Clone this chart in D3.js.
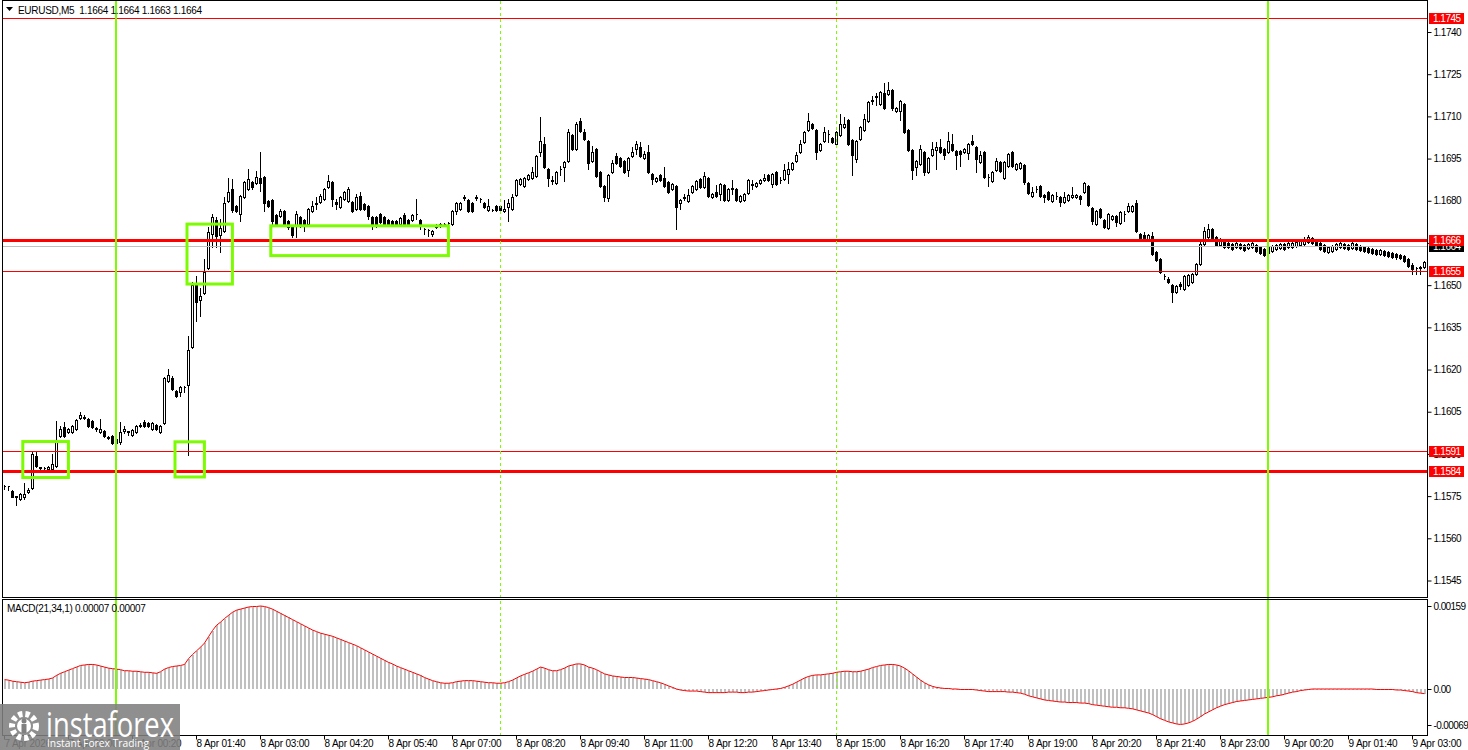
<!DOCTYPE html>
<html>
<head>
<meta charset="utf-8">
<script src="https://cdn.jsdelivr.net/npm/d3@7"></script>
<style>
  body { margin: 0; background: #fff; }
  svg { display: block; font-family: "Liberation Sans", Arial, sans-serif; }
</style>
</head>
<body>
<svg id="chart" width="1468" height="750"></svg>
<script>
// EURUSD M5, 7 Apr 21:40 .. 9 Apr 03:15, one entry per bar
const opens = [
  1.15787,1.15785,1.15769,1.15748,1.15741,1.15748,1.15766,1.15780,1.15894,1.15855,
  1.15851,1.15848,1.15848,1.15858,1.15965,1.15997,1.15979,1.15979,1.15990,1.16029,
  1.16032,1.16025,1.16018,1.15993,1.15979,1.15982,1.15961,1.15965,1.15940,1.15943,
  1.15982,1.15979,1.15968,1.15979,1.16000,1.16014,1.16011,1.15990,1.16004,1.15979,
  1.16011,1.16160,1.16171,1.16124,1.16121,1.16139,1.16146,1.16281,1.16501,1.16447,
  1.16472,1.16561,1.16682,1.16731,1.16678,1.16692,1.16799,1.16842,1.16781,1.16753,
  1.16813,1.16842,1.16866,1.16863,1.16881,1.16884,1.16799,1.16802,1.16749,1.16746,
  1.16763,1.16728,1.16707,1.16710,1.16742,1.16731,1.16717,1.16763,1.16788,1.16795,
  1.16806,1.16849,1.16866,1.16795,1.16778,1.16806,1.16799,1.16795,1.16771,1.16817,
  1.16788,1.16781,1.16742,1.16742,1.16753,1.16742,1.16731,1.16728,1.16728,1.16717,
  1.16749,1.16731,1.16731,1.16753,1.16731,1.16700,1.16696,1.16682,1.16707,1.16710,
  1.16717,1.16721,1.16717,1.16763,1.16771,1.16810,1.16802,1.16792,1.16810,1.16806,
  1.16792,1.16767,1.16767,1.16781,1.16781,1.16763,1.16778,1.16771,1.16820,1.16859,
  1.16852,1.16877,1.16881,1.16888,1.16973,1.17001,1.16913,1.16873,1.16863,1.16913,
  1.16920,1.16941,1.17033,1.16984,1.17083,1.17044,1.17012,1.16941,1.16984,1.16902,
  1.16852,1.16810,1.16902,1.16959,1.16952,1.16941,1.16909,1.16959,1.16984,1.16991,
  1.16952,1.16973,1.16895,1.16870,1.16891,1.16881,1.16866,1.16842,1.16852,1.16792,
  1.16810,1.16799,1.16831,1.16842,1.16877,1.16849,1.16881,1.16813,1.16831,1.16824,
  1.16856,1.16802,1.16842,1.16842,1.16799,1.16802,1.16827,1.16856,1.16852,1.16863,
  1.16873,1.16891,1.16859,1.16902,1.16873,1.16877,1.16895,1.16913,1.16941,1.16973,
  1.17008,1.17051,1.17072,1.17051,1.16980,1.17012,1.17037,1.17023,1.17001,1.17033,
  1.17062,1.17086,1.17015,1.16948,1.17019,1.17051,1.17083,1.17154,1.17168,1.17143,
  1.17182,1.17179,1.17193,1.17118,1.17118,1.17143,1.17051,1.16980,1.16920,1.16930,
  1.16973,1.16902,1.16962,1.16980,1.16991,1.16984,1.16973,1.17001,1.16976,1.16976,
  1.16973,1.16969,1.17012,1.16991,1.16937,1.16973,1.16884,1.16870,1.16909,1.16937,
  1.16881,1.16923,1.16973,1.16913,1.16916,1.16927,1.16863,1.16817,1.16842,1.16852,
  1.16820,1.16831,1.16799,1.16817,1.16813,1.16795,1.16802,1.16813,1.16813,1.16817,
  1.16831,1.16852,1.16774,1.16717,1.16771,1.16731,1.16703,1.16735,1.16746,1.16721,
  1.16753,1.16763,1.16763,1.16792,1.16682,1.16678,1.16664,1.16675,1.16618,1.16593,
  1.16533,1.16522,1.16501,1.16476,1.16504,1.16486,1.16501,1.16511,1.16540,1.16575,
  1.16646,1.16671,1.16700,1.16671,1.16643,1.16653,1.16650,1.16646,1.16636,1.16646,
  1.16643,1.16632,1.16636,1.16643,1.16636,1.16629,1.16614,1.16621,1.16629,1.16632,
  1.16646,1.16636,1.16636,1.16639,1.16643,1.16646,1.16653,1.16668,1.16660,1.16650,
  1.16643,1.16618,1.16621,1.16629,1.16636,1.16646,1.16643,1.16632,1.16646,1.16639,
  1.16636,1.16632,1.16629,1.16625,1.16611,1.16621,1.16618,1.16614,1.16611,1.16607,
  1.16604,1.16593,1.16572,1.16561,1.16561,1.16565
];
const highs = [
  1.15791,1.15787,1.15773,1.15752,1.15762,1.15798,1.15780,1.15908,1.15908,1.15855,
  1.15855,1.15858,1.15901,1.16018,1.16000,1.16014,1.15993,1.16004,1.16025,1.16050,
  1.16039,1.16029,1.16021,1.15997,1.16025,1.15986,1.15965,1.15968,1.15961,1.16014,
  1.16000,1.15982,1.15990,1.16004,1.16011,1.16021,1.16014,1.16014,1.16007,1.16004,
  1.16174,1.16203,1.16178,1.16128,1.16142,1.16142,1.16320,1.16511,1.16533,1.16490,
  1.16593,1.16707,1.16753,1.16742,1.16735,1.16813,1.16881,1.16877,1.16785,1.16820,
  1.16870,1.16913,1.16870,1.16905,1.16973,1.16888,1.16802,1.16806,1.16753,1.16771,
  1.16767,1.16731,1.16710,1.16763,1.16746,1.16735,1.16774,1.16799,1.16813,1.16824,
  1.16845,1.16891,1.16870,1.16806,1.16817,1.16834,1.16849,1.16799,1.16824,1.16831,
  1.16792,1.16785,1.16746,1.16746,1.16756,1.16746,1.16735,1.16731,1.16731,1.16742,
  1.16756,1.16735,1.16753,1.16806,1.16735,1.16703,1.16700,1.16696,1.16717,1.16721,
  1.16721,1.16724,1.16767,1.16795,1.16795,1.16820,1.16806,1.16795,1.16820,1.16810,
  1.16795,1.16806,1.16771,1.16785,1.16785,1.16802,1.16806,1.16824,1.16877,1.16881,
  1.16884,1.16895,1.16920,1.16962,1.17097,1.17026,1.16916,1.16888,1.16905,1.16923,
  1.16941,1.17055,1.17037,1.17079,1.17094,1.17055,1.17015,1.16994,1.16987,1.16905,
  1.16856,1.16895,1.16944,1.16969,1.16955,1.16944,1.16955,1.16991,1.17012,1.17008,
  1.16976,1.16998,1.16898,1.16884,1.16895,1.16920,1.16870,1.16863,1.16856,1.16806,
  1.16824,1.16842,1.16856,1.16873,1.16881,1.16902,1.16884,1.16827,1.16856,1.16863,
  1.16859,1.16845,1.16873,1.16845,1.16820,1.16827,1.16877,1.16873,1.16866,1.16877,
  1.16895,1.16895,1.16898,1.16905,1.16884,1.16930,1.16937,1.16937,1.16973,1.17015,
  1.17047,1.17111,1.17076,1.17055,1.17005,1.17062,1.17051,1.17026,1.17047,1.17108,
  1.17097,1.17090,1.17019,1.17015,1.17065,1.17108,1.17154,1.17172,1.17182,1.17189,
  1.17218,1.17221,1.17196,1.17133,1.17157,1.17147,1.17055,1.16984,1.16944,1.16998,
  1.16976,1.16955,1.17008,1.17008,1.17019,1.16987,1.17044,1.17037,1.16980,1.16980,
  1.16987,1.17005,1.17033,1.16994,1.16976,1.16976,1.16895,1.16905,1.16952,1.16941,
  1.16941,1.16969,1.16976,1.16934,1.16937,1.16930,1.16866,1.16849,1.16852,1.16856,
  1.16824,1.16834,1.16824,1.16831,1.16817,1.16831,1.16824,1.16849,1.16824,1.16820,
  1.16866,1.16856,1.16778,1.16767,1.16774,1.16735,1.16756,1.16749,1.16749,1.16763,
  1.16763,1.16792,1.16785,1.16802,1.16685,1.16689,1.16682,1.16689,1.16621,1.16597,
  1.16540,1.16529,1.16504,1.16501,1.16511,1.16536,1.16540,1.16543,1.16579,1.16653,
  1.16707,1.16717,1.16703,1.16675,1.16668,1.16657,1.16653,1.16650,1.16653,1.16650,
  1.16646,1.16650,1.16657,1.16646,1.16639,1.16632,1.16639,1.16643,1.16646,1.16650,
  1.16650,1.16653,1.16657,1.16657,1.16664,1.16671,1.16678,1.16671,1.16664,1.16653,
  1.16646,1.16639,1.16643,1.16650,1.16653,1.16650,1.16646,1.16653,1.16650,1.16643,
  1.16639,1.16636,1.16632,1.16629,1.16629,1.16625,1.16621,1.16618,1.16614,1.16611,
  1.16607,1.16597,1.16579,1.16565,1.16568,1.16586
];
const lows = [
  1.15777,1.15773,1.15748,1.15720,1.15737,1.15741,1.15762,1.15777,1.15855,1.15844,
  1.15844,1.15844,1.15844,1.15855,1.15961,1.15961,1.15975,1.15975,1.15986,1.16025,
  1.16025,1.15997,1.15993,1.15982,1.15975,1.15961,1.15954,1.15936,1.15936,1.15936,
  1.15975,1.15968,1.15965,1.15975,1.15997,1.15997,1.15997,1.15986,1.15986,1.15975,
  1.16007,1.16156,1.16128,1.16103,1.16107,1.16121,1.15897,1.16277,1.16373,1.16391,
  1.16469,1.16558,1.16636,1.16636,1.16618,1.16689,1.16795,1.16760,1.16760,1.16728,
  1.16810,1.16838,1.16842,1.16859,1.16834,1.16763,1.16778,1.16717,1.16714,1.16742,
  1.16714,1.16700,1.16671,1.16671,1.16707,1.16692,1.16714,1.16760,1.16771,1.16792,
  1.16802,1.16845,1.16781,1.16771,1.16774,1.16802,1.16795,1.16760,1.16767,1.16767,
  1.16767,1.16735,1.16700,1.16707,1.16721,1.16714,1.16714,1.16714,1.16710,1.16714,
  1.16714,1.16714,1.16728,1.16735,1.16700,1.16682,1.16675,1.16675,1.16703,1.16707,
  1.16714,1.16710,1.16714,1.16753,1.16767,1.16802,1.16760,1.16760,1.16802,1.16795,
  1.16774,1.16763,1.16763,1.16763,1.16763,1.16760,1.16728,1.16767,1.16817,1.16856,
  1.16849,1.16873,1.16877,1.16884,1.16959,1.16916,1.16852,1.16859,1.16859,1.16891,
  1.16870,1.16937,1.16980,1.16980,1.17044,1.17016,1.16913,1.16937,1.16884,1.16849,
  1.16799,1.16799,1.16898,1.16930,1.16920,1.16898,1.16888,1.16955,1.16966,1.16955,
  1.16948,1.16898,1.16859,1.16866,1.16870,1.16849,1.16827,1.16838,1.16700,1.16771,
  1.16802,1.16795,1.16827,1.16838,1.16845,1.16845,1.16813,1.16810,1.16813,1.16802,
  1.16799,1.16799,1.16824,1.16799,1.16795,1.16799,1.16824,1.16842,1.16849,1.16859,
  1.16870,1.16870,1.16849,1.16856,1.16863,1.16873,1.16863,1.16909,1.16937,1.16969,
  1.17005,1.17047,1.17055,1.16948,1.16976,1.17008,1.17008,1.17005,1.16998,1.17030,
  1.17058,1.16998,1.16891,1.16937,1.17015,1.17047,1.17079,1.17143,1.17140,1.17140,
  1.17126,1.17175,1.17122,1.17115,1.17086,1.17040,1.16976,1.16877,1.16891,1.16927,
  1.16891,1.16898,1.16959,1.16913,1.16969,1.16948,1.16969,1.16976,1.16913,1.16923,
  1.16969,1.16948,1.16998,1.16902,1.16934,1.16881,1.16852,1.16866,1.16905,1.16902,
  1.16877,1.16920,1.16920,1.16909,1.16913,1.16859,1.16824,1.16813,1.16831,1.16813,
  1.16795,1.16802,1.16795,1.16806,1.16781,1.16792,1.16799,1.16810,1.16810,1.16788,
  1.16827,1.16781,1.16717,1.16714,1.16739,1.16703,1.16700,1.16731,1.16710,1.16717,
  1.16728,1.16760,1.16760,1.16689,1.16660,1.16660,1.16660,1.16607,1.16586,1.16543,
  1.16522,1.16508,1.16440,1.16472,1.16486,1.16483,1.16497,1.16508,1.16536,1.16572,
  1.16643,1.16668,1.16660,1.16639,1.16639,1.16632,1.16632,1.16625,1.16632,1.16629,
  1.16621,1.16629,1.16632,1.16618,1.16611,1.16604,1.16611,1.16618,1.16625,1.16629,
  1.16625,1.16632,1.16632,1.16636,1.16639,1.16643,1.16650,1.16646,1.16639,1.16625,
  1.16618,1.16614,1.16618,1.16625,1.16632,1.16629,1.16625,1.16629,1.16625,1.16621,
  1.16618,1.16614,1.16611,1.16607,1.16607,1.16604,1.16600,1.16597,1.16593,1.16593,
  1.16582,1.16565,1.16540,1.16540,1.16540,1.16561
];
const closes = [
  1.15786,1.15785,1.15748,1.15752,1.15759,1.15759,1.15773,1.15901,1.15858,1.15851,
  1.15849,1.15855,1.15865,1.15943,1.15990,1.15965,1.15990,1.16000,1.16021,1.16039,
  1.16029,1.16000,1.15997,1.15990,1.15990,1.15965,1.15958,1.15940,1.15954,1.15979,
  1.15990,1.15982,1.15986,1.16000,1.16004,1.16000,1.16000,1.16011,1.15990,1.16000,
  1.16171,1.16181,1.16132,1.16107,1.16139,1.16138,1.16270,1.16501,1.16440,1.16462,
  1.16547,1.16689,1.16742,1.16675,1.16703,1.16792,1.16831,1.16767,1.16763,1.16817,
  1.16866,1.16877,1.16849,1.16884,1.16863,1.16792,1.16781,1.16728,1.16717,1.16763,
  1.16717,1.16707,1.16678,1.16753,1.16710,1.16710,1.16771,1.16781,1.16792,1.16817,
  1.16842,1.16870,1.16806,1.16788,1.16813,1.16831,1.16842,1.16763,1.16813,1.16771,
  1.16771,1.16746,1.16710,1.16714,1.16724,1.16717,1.16717,1.16717,1.16714,1.16739,
  1.16717,1.16717,1.16749,1.16752,1.16710,1.16699,1.16695,1.16692,1.16714,1.16717,
  1.16718,1.16720,1.16763,1.16792,1.16792,1.16813,1.16763,1.16763,1.16813,1.16805,
  1.16778,1.16781,1.16766,1.16767,1.16767,1.16771,1.16792,1.16813,1.16873,1.16877,
  1.16881,1.16891,1.16902,1.16959,1.17012,1.16920,1.16881,1.16872,1.16902,1.16914,
  1.16937,1.17044,1.16984,1.17072,1.17047,1.17019,1.16934,1.16973,1.16888,1.16852,
  1.16813,1.16891,1.16934,1.16934,1.16923,1.16902,1.16952,1.16973,1.17001,1.16959,
  1.16966,1.16902,1.16877,1.16881,1.16873,1.16852,1.16831,1.16859,1.16778,1.16802,
  1.16813,1.16820,1.16852,1.16870,1.16849,1.16888,1.16817,1.16824,1.16817,1.16859,
  1.16802,1.16842,1.16845,1.16802,1.16817,1.16824,1.16873,1.16859,1.16863,1.16873,
  1.16881,1.16873,1.16895,1.16859,1.16874,1.16909,1.16913,1.16934,1.16962,1.17001,
  1.17044,1.17083,1.17058,1.16973,1.17001,1.17044,1.17036,1.17008,1.17044,1.17072,
  1.17072,1.17001,1.16962,1.17012,1.17062,1.17090,1.17150,1.17157,1.17172,1.17186,
  1.17129,1.17193,1.17129,1.17129,1.17154,1.17044,1.16980,1.16909,1.16941,1.16984,
  1.16902,1.16952,1.16984,1.16991,1.16973,1.16962,1.17012,1.16980,1.16962,1.16966,
  1.16984,1.17001,1.17001,1.16948,1.16962,1.16884,1.16883,1.16902,1.16941,1.16905,
  1.16937,1.16966,1.16923,1.16930,1.16934,1.16866,1.16827,1.16831,1.16841,1.16817,
  1.16813,1.16806,1.16820,1.16816,1.16795,1.16813,1.16820,1.16820,1.16820,1.16806,
  1.16863,1.16785,1.16728,1.16763,1.16742,1.16707,1.16753,1.16746,1.16724,1.16760,
  1.16752,1.16781,1.16781,1.16692,1.16664,1.16664,1.16678,1.16611,1.16589,1.16547,
  1.16532,1.16511,1.16476,1.16497,1.16497,1.16533,1.16536,1.16540,1.16575,1.16646,
  1.16692,1.16700,1.16664,1.16643,1.16664,1.16636,1.16636,1.16629,1.16650,1.16632,
  1.16625,1.16646,1.16650,1.16621,1.16614,1.16607,1.16636,1.16639,1.16643,1.16646,
  1.16629,1.16650,1.16650,1.16653,1.16657,1.16664,1.16671,1.16650,1.16643,1.16629,
  1.16621,1.16636,1.16639,1.16646,1.16650,1.16632,1.16629,1.16650,1.16629,1.16625,
  1.16621,1.16618,1.16614,1.16611,1.16625,1.16607,1.16604,1.16600,1.16600,1.16597,
  1.16586,1.16568,1.16558,1.16560,1.16565,1.16582
];
// MACD(21,34,1) main line per bar, in units of 0.00001
const macdE5 = [
  18,17,15,14,13,12,13,15,16,17,
  18,19,21,26,30,33,36,39,42,45,
  46,47,47,46,44,42,40,39,38,37,
  35,35,34,34,33,32,32,31,30,33,
  38,41,43,44,45,47,58,66,73,80,
  88,100,112,122,128,135,141,147,151,153,
  155,157,158,158,159,158,156,153,149,145,
  141,137,133,129,125,121,117,113,110,107,
  105,103,101,98,95,92,89,86,83,79,
  75,71,67,63,59,55,51,48,44,41,
  38,35,32,29,26,22,19,16,14,12,
  11,11,12,14,15,16,16,16,15,14,
  13,12,12,11,11,12,14,17,21,25,
  28,31,34,38,42,40,37,35,35,37,
  40,44,46,48,48,46,42,40,37,33,
  29,27,25,24,23,22,22,22,21,20,
  19,18,16,14,12,9,6,3,0,-2,
  -3,-4,-4,-4,-5,-6,-7,-7,-7,-7,
  -7,-6,-6,-6,-7,-7,-6,-6,-5,-4,
  -3,-2,-1,0,1,3,6,9,13,17,
  21,24,26,27,27,28,29,30,32,33,
  34,34,33,33,34,36,38,41,43,45,
  46,47,47,46,44,40,35,29,23,17,
  12,8,5,3,2,1,1,0,0,-1,
  -1,-1,-1,-2,-3,-4,-5,-5,-5,-5,
  -5,-6,-6,-7,-8,-10,-13,-15,-17,-19,
  -21,-22,-23,-24,-25,-25,-26,-26,-26,-27,
  -27,-28,-30,-31,-32,-33,-34,-35,-35,-36,
  -36,-37,-38,-40,-42,-44,-46,-49,-53,-57,
  -60,-63,-65,-67,-68,-67,-65,-62,-58,-53,
  -48,-44,-40,-36,-33,-30,-28,-26,-24,-23,
  -22,-21,-20,-19,-18,-17,-16,-15,-13,-12,
  -10,-8,-6,-5,-3,-2,-1,0,0,0,
  0,0,0,0,0,0,0,0,0,0,
  0,0,0,-1,-1,-1,-1,-1,-2,-2,
  -3,-4,-5,-7,-8,-9
];

const priceTicks = [1.1740,1.1725,1.1710,1.1695,1.1680,1.1665,1.1650,1.1635,1.1620,1.1605,1.1590,1.1575,1.1560,1.1545];
const levelPrices = [1.1745, 1.1666, 1.1655, 1.1591, 1.1584];
const thickLevels = [1.1666, 1.1584];
const bidPrice = 1.1664;
const macdTicks = [0.00159, 0, -0.00069];
const macdTickLabels = ["0.00159", "0.00", "-0.00069"];
const timeLabels = ["7 Apr 2026","7 Apr 23:00","8 Apr 00:20","8 Apr 01:40","8 Apr 03:00","8 Apr 04:20",
  "8 Apr 05:40","8 Apr 07:00","8 Apr 08:20","8 Apr 09:40","8 Apr 11:00","8 Apr 12:20","8 Apr 13:40",
  "8 Apr 15:00","8 Apr 16:20","8 Apr 17:40","8 Apr 19:00","8 Apr 20:20","8 Apr 21:40","8 Apr 23:00",
  "9 Apr 00:20","9 Apr 01:40","9 Apr 03:00"];
const timeTickBars = timeLabels.map((d, i) => i * 16);
const dayBars = [28, 316];      // midnight separators
const sessionBars = [124, 208]; // dashed markers
// highlighted zones: bar range and price range
const boxFrom = [4.7, 42.75, 45.75, 66.7];
const boxTo   = [16.1, 50.1, 57.1, 111.1];
const boxLow  = [1.15816, 1.15818, 1.16504, 1.16605];
const boxHigh = [1.15944, 1.15943, 1.16717, 1.16711];

const svg = d3.select("#chart");
const left = 2, right = 1427, mainBottom = 597, macdTop = 599, macdBottom = 735;
const green = "#7cfc00";
const font = "Liberation Sans, Arial, sans-serif";

const x = d3.scaleLinear().domain([0, 1]).range([4, 8]);
const y = d3.scaleLinear().domain([1.1545, 1.1740]).range([580.5, 32]);
const ym = d3.scaleLinear().domain([-0.00069, 0.00159]).range([725, 606]);

svg.append("rect").attr("width", 1468).attr("height", 750).attr("fill", "#fff");

const defs = svg.append("defs");
defs.append("clipPath").attr("id", "clipMain").append("rect")
  .attr("x", left + 1).attr("y", 1).attr("width", right - left - 1).attr("height", mainBottom - 1);
defs.append("clipPath").attr("id", "clipMacd").append("rect")
  .attr("x", left + 1).attr("y", macdTop + 1).attr("width", right - left - 1).attr("height", macdBottom - macdTop - 1);

// candles
const bars = closes.map((c, i) => ({ i, o: opens[i], h: highs[i], l: lows[i], c }));
const cg = svg.append("g").attr("clip-path", "url(#clipMain)").attr("shape-rendering", "crispEdges");
cg.selectAll("line").data(bars).join("line")
  .attr("x1", d => x(d.i) + 0.5).attr("x2", d => x(d.i) + 0.5)
  .attr("y1", d => Math.round(y(d.h))).attr("y2", d => Math.round(y(d.l)) + 1)
  .attr("stroke", "#000");
cg.selectAll("path").data(bars).join("path")
  .attr("d", d => {
    const t = Math.round(y(Math.max(d.o, d.c))) + 0.5;
    const b = Math.round(y(Math.min(d.o, d.c))) + 0.5;
    const x0 = x(d.i) - 0.5, x1 = x(d.i) + 1.5;
    return `M${x0},${t}H${x1}V${b}H${x0}Z`;
  })
  .attr("fill", d => d.c >= d.o ? "#fff" : "#000")
  .attr("stroke", "#000");

// MACD histogram + signal
const mg = svg.append("g").attr("clip-path", "url(#clipMacd)").attr("shape-rendering", "crispEdges");
const macd = macdE5.map(v => v / 100000);
mg.selectAll("rect").data(macd).join("rect")
  .attr("x", (d, i) => x(i))
  .attr("width", 2)
  .attr("y", d => Math.round(Math.min(ym(d), ym(0))))
  .attr("height", d => Math.max(1, Math.round(Math.abs(ym(d) - ym(0)))))
  .attr("fill", "#c0c0c0");
svg.append("path")
  .attr("clip-path", "url(#clipMacd)")
  .datum(macd)
  .attr("d", d3.line().x((d, i) => x(i) + 0.5).y(d => ym(d)))
  .attr("fill", "none").attr("stroke", "#ff0000").attr("stroke-width", 1);

// horizontal levels
const lg = svg.append("g").attr("shape-rendering", "crispEdges");
lg.append("line")
  .attr("x1", left).attr("x2", right)
  .attr("y1", Math.round(y(bidPrice)) + 0.5).attr("y2", Math.round(y(bidPrice)) + 0.5)
  .attr("stroke", "#c0c0c0");
lg.selectAll("line.lvl").data(levelPrices).join("line").attr("class", "lvl")
  .attr("x1", left).attr("x2", right)
  .attr("y1", d => Math.round(y(d)) + 0.5).attr("y2", d => Math.round(y(d)) + 0.5)
  .attr("stroke", "#ff0000")
  .attr("stroke-width", d => thickLevels.includes(d) ? 3 : 1);

// zones
svg.append("g").selectAll("rect").data(boxFrom).join("rect")
  .attr("x", (d, i) => x(d))
  .attr("y", (d, i) => y(boxHigh[i]))
  .attr("width", (d, i) => x(boxTo[i]) - x(d))
  .attr("height", (d, i) => y(boxLow[i]) - y(boxHigh[i]))
  .attr("fill", "none").attr("stroke", green).attr("stroke-width", 3);

// vertical markers
const vg = svg.append("g").attr("shape-rendering", "crispEdges");
vg.selectAll("line.day").data(dayBars).join("line").attr("class", "day")
  .attr("x1", d => x(d)).attr("x2", d => x(d))
  .attr("y1", 1).attr("y2", macdBottom)
  .attr("stroke", green).attr("stroke-width", 2);
vg.selectAll("line.ses").data(sessionBars).join("line").attr("class", "ses")
  .attr("x1", d => x(d) + 0.5).attr("x2", d => x(d) + 0.5)
  .attr("y1", 1).attr("y2", macdBottom)
  .attr("stroke", green).attr("stroke-dasharray", "3,3");

// frames
const fg = svg.append("g").attr("fill", "none").attr("stroke", "#000").attr("shape-rendering", "crispEdges");
fg.append("rect").attr("x", left + 0.5).attr("y", 0.5).attr("width", right - left).attr("height", mainBottom);
fg.append("rect").attr("x", left + 0.5).attr("y", macdTop + 0.5).attr("width", right - left).attr("height", macdBottom - macdTop);

// price axis
const pa = svg.append("g").attr("transform", `translate(${right + 0.5},0)`)
  .call(d3.axisRight(y).tickValues(priceTicks).tickSize(4).tickPadding(2).tickFormat(d3.format(".4f")));
pa.select(".domain").remove();
pa.selectAll("text").attr("font-size", 10).attr("font-family", font).attr("fill", "#000").attr("letter-spacing", "-0.5");

// MACD axis
const ma = svg.append("g").attr("transform", `translate(${right + 0.5},0)`)
  .call(d3.axisRight(ym).tickValues(macdTicks).tickSize(4).tickPadding(2).tickFormat((d, i) => macdTickLabels[i]));
ma.select(".domain").remove();
ma.selectAll("text").attr("font-size", 10).attr("font-family", font).attr("fill", "#000").attr("letter-spacing", "-0.6");

// time axis
const ta = svg.append("g").attr("transform", `translate(0,${macdBottom + 0.5})`)
  .call(d3.axisBottom(x).tickValues(timeTickBars).tickSize(4).tickFormat((d, i) => timeLabels[i]));
ta.select(".domain").remove();
ta.selectAll("text").attr("font-size", 10).attr("font-family", font)
  .attr("fill", "#000").attr("text-anchor", "start").attr("x", 0).attr("y", 4).attr("letter-spacing", "-0.2");

// price labels on the scale
function priceTag(p, bg) {
  const cy = Math.round(y(p));
  svg.append("rect").attr("x", right + 2).attr("y", cy - 5).attr("width", 35).attr("height", 11).attr("fill", bg);
  svg.append("text").attr("x", right + 6).attr("y", cy + 4).attr("font-size", 10).attr("letter-spacing", "-0.5")
    .attr("fill", "#fff").text(d3.format(".4f")(p));
}
priceTag(bidPrice, "#000");
levelPrices.forEach(p => priceTag(p, "#ff0000"));

// header and indicator label
svg.append("path").attr("d", "M6,7H13L9.5,11Z").attr("fill", "#000");
svg.append("text").attr("x", 18).attr("y", 14).attr("font-size", 10).attr("fill", "#000")
  .attr("letter-spacing", "-0.3").attr("xml:space", "preserve")
  .text("EURUSD,M5  1.1664 1.1664 1.1663 1.1664");
svg.append("text").attr("x", 7).attr("y", 612).attr("font-size", 10).attr("fill", "#000")
  .attr("letter-spacing", "-0.3")
  .text("MACD(21,34,1) 0.00007 0.00007");

// watermark
const wm = svg.append("g");
wm.append("rect").attr("x", 0).attr("y", 704).attr("width", 180).attr("height", 46).attr("fill", "#808080").attr("opacity", 0.88);
wm.append("circle").attr("cx", 24).attr("cy", 726).attr("r", 12).attr("fill", "none")
  .attr("stroke", "#fff").attr("stroke-width", 6).attr("stroke-dasharray", "4.2,3");
wm.append("circle").attr("cx", 24).attr("cy", 726).attr("r", 7).attr("fill", "#fff");
wm.append("circle").attr("cx", 24).attr("cy", 721).attr("r", 2.5).attr("fill", "#808080");
wm.append("rect").attr("x", 21.5).attr("y", 724).attr("width", 5).attr("height", 9).attr("fill", "#808080");
wm.append("text").attr("x", 46).attr("y", 737).attr("font-size", 34).attr("font-family", "Open Sans, sans-serif")
  .attr("fill", "#fff").attr("textLength", 128).attr("lengthAdjust", "spacingAndGlyphs").text("instaforex");
wm.append("text").attr("x", 47).attr("y", 747).attr("font-size", 11).attr("font-family", "Open Sans, sans-serif")
  .attr("fill", "#fff").attr("textLength", 102).attr("lengthAdjust", "spacingAndGlyphs").text("Instant Forex Trading");
</script>
</body>
</html>
